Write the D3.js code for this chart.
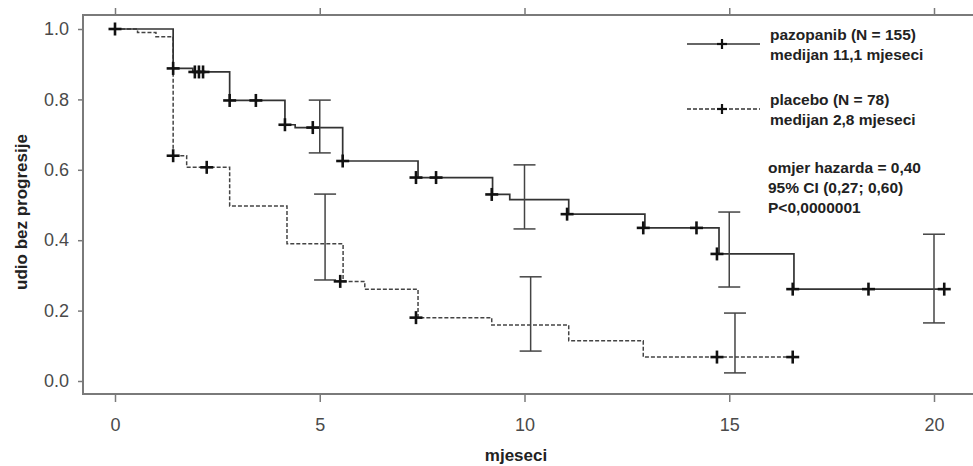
<!DOCTYPE html>
<html>
<head>
<meta charset="utf-8">
<script src="https://cdn.jsdelivr.net/npm/d3@7"></script>
<style>
  body { margin: 0; background: #fff; }
  svg { display: block; }
  .tick text { font-family: "Liberation Sans", Arial, sans-serif; }
</style>
</head>
<body>
<svg id="chart" width="973" height="466"></svg>
<script>
// pazopanib KM steps [month, survival]
const pazSteps = [
  [0, 1.0], [1.42, 0.888], [1.9, 0.878], [2.8, 0.797], [4.15, 0.728], [4.4, 0.72],
  [5.56, 0.625], [7.4, 0.578], [9.22, 0.53], [9.64, 0.515], [11.08, 0.474],
  [12.94, 0.435], [14.75, 0.361], [16.58, 0.261], [20.3, 0.261]
];
const pazCensored = [
  [0, 1.0], [1.42, 0.888], [1.95, 0.878], [2.05, 0.878], [2.15, 0.878], [2.8, 0.797],
  [3.44, 0.797], [4.15, 0.728], [4.83, 0.72], [5.56, 0.625], [7.35, 0.578], [7.84, 0.578],
  [9.2, 0.53], [11.04, 0.474], [12.9, 0.435], [14.2, 0.435], [14.7, 0.361],
  [16.55, 0.261], [18.4, 0.261], [20.25, 0.261]
];
const pazCI = [[5, 0.648, 0.798], [10, 0.432, 0.614], [15, 0.267, 0.48], [20, 0.165, 0.417]];

// placebo
const plaSteps = [
  [0, 1.0], [0.55, 0.99], [1.0, 0.978], [1.42, 0.64], [1.75, 0.607], [2.8, 0.497],
  [4.2, 0.39], [5.57, 0.283], [6.1, 0.261], [7.4, 0.18], [9.2, 0.159],
  [11.08, 0.114], [12.9, 0.068], [16.55, 0.068]
];
const plaCensored = [[1.42, 0.64], [2.24, 0.607], [5.5, 0.283], [7.35, 0.18], [14.7, 0.068], [16.55, 0.068]];
const plaCI = [[5.13, 0.287, 0.531], [10.15, 0.085, 0.296], [15.14, 0.023, 0.193]];

const xTicks = [0, 5, 10, 15, 20];
const yTicks = [0, 0.2, 0.4, 0.6, 0.8, 1.0];

const legendLines = [
  { label: ["pazopanib (N = 155)", "medijan 11,1 mjeseci"], dash: null },
  { label: ["placebo (N = 78)", "medijan 2,8 mjeseci"], dash: "4,2" }
];
const statsText = ["omjer hazarda = 0,40", "95% CI (0,27; 0,60)", "P<0,0000001"];

const frame = { left: 83, top: 15, right: 990, bottom: 394 };

const svg = d3.select("#chart");
const x = d3.scaleLinear().domain([0, 20]).range([115, 934]);
const y = d3.scaleLinear().domain([0, 1]).range([381, 29]);

const font = '"Liberation Sans", Arial, sans-serif';

// frame
svg.append("rect")
  .attr("x", frame.left).attr("y", frame.top)
  .attr("width", frame.right - frame.left).attr("height", frame.bottom - frame.top)
  .attr("fill", "none").attr("stroke", "#7a7a7a").attr("stroke-width", 2);

const yAxis = svg.append("g")
  .attr("transform", `translate(${frame.left},0)`)
  .call(d3.axisLeft(y).tickValues(yTicks).tickFormat(d3.format(".1f")).tickSize(5).tickPadding(9));
yAxis.select(".domain").remove();
yAxis.selectAll("line").attr("stroke", "#7a7a7a").attr("stroke-width", 1.5);
yAxis.selectAll("text").attr("font-size", 18).attr("fill", "#4a4a4a");

const xAxis = svg.append("g")
  .attr("transform", `translate(0,${frame.bottom})`)
  .call(d3.axisBottom(x).tickValues(xTicks).tickSize(8).tickPadding(16));
xAxis.select(".domain").remove();
xAxis.selectAll("line").attr("stroke", "#7a7a7a").attr("stroke-width", 1.5);
xAxis.selectAll("text").attr("font-size", 18).attr("fill", "#4a4a4a");

const topAxis = svg.append("g")
  .attr("transform", `translate(0,${frame.top})`)
  .call(d3.axisTop(x).tickValues(xTicks).tickSize(7).tickFormat(""));
topAxis.select(".domain").remove();
topAxis.selectAll("line").attr("stroke", "#7a7a7a").attr("stroke-width", 1.5);

// titles
svg.append("text")
  .attr("x", 516).attr("y", 461)
  .attr("text-anchor", "middle")
  .attr("font-family", font).attr("font-weight", "bold").attr("font-size", 17)
  .attr("fill", "#222")
  .text("mjeseci");

svg.append("text")
  .attr("transform", "translate(27,212) rotate(-90)")
  .attr("text-anchor", "middle")
  .attr("font-family", font).attr("font-weight", "bold").attr("font-size", 17)
  .attr("fill", "#222")
  .text("udio bez progresije");

// KM curves
const line = d3.line()
  .x(d => x(d[0]))
  .y(d => y(d[1]))
  .curve(d3.curveStepAfter);

svg.append("path")
  .datum(plaSteps)
  .attr("d", line)
  .attr("fill", "none").attr("stroke", "#444").attr("stroke-width", 1.5)
  .attr("stroke-dasharray", "4,2");

svg.append("path")
  .datum(pazSteps)
  .attr("d", line)
  .attr("fill", "none").attr("stroke", "#333").attr("stroke-width", 1.7);

// confidence bars
function drawCI(data) {
  const g = svg.append("g").attr("stroke", "#444").attr("stroke-width", 1.5);
  data.forEach(d => {
    const cx = x(d[0]);
    g.append("line").attr("x1", cx).attr("x2", cx).attr("y1", y(d[1])).attr("y2", y(d[2]));
    [d[1], d[2]].forEach(v => {
      g.append("line").attr("x1", cx - 11).attr("x2", cx + 11).attr("y1", y(v)).attr("y2", y(v));
    });
  });
}
drawCI(pazCI);
drawCI(plaCI);

// censor marks
function plus(g, cx, cy, r) {
  g.append("line").attr("x1", cx - r).attr("x2", cx + r).attr("y1", cy).attr("y2", cy);
  g.append("line").attr("x1", cx).attr("x2", cx).attr("y1", cy - r).attr("y2", cy + r);
}
const marks = svg.append("g").attr("stroke", "#111").attr("stroke-width", 2.6);
pazCensored.concat(plaCensored).forEach(d => plus(marks, x(d[0]), y(d[1]), 6.5));

// legend
legendLines.forEach((d, i) => {
  const ly = 44 + i * 65;
  svg.append("line")
    .attr("x1", 687).attr("x2", 760).attr("y1", ly).attr("y2", ly)
    .attr("stroke", "#333").attr("stroke-width", 1.5)
    .attr("stroke-dasharray", d.dash);
  const lg = svg.append("g").attr("stroke", "#111").attr("stroke-width", 2.2);
  plus(lg, 722, ly, 5);
  d.label.forEach((t, j) => {
    svg.append("text")
      .attr("x", 770).attr("y", ly - 4 + j * 20)
      .attr("font-family", font).attr("font-weight", "bold").attr("font-size", 15.5)
      .attr("fill", "#222")
      .text(t);
  });
});

statsText.forEach((t, i) => {
  svg.append("text")
    .attr("x", 768).attr("y", 173 + i * 20)
    .attr("font-family", font).attr("font-weight", "bold").attr("font-size", 15.5)
    .attr("fill", "#222")
    .text(t);
});
</script>
</body>
</html>
